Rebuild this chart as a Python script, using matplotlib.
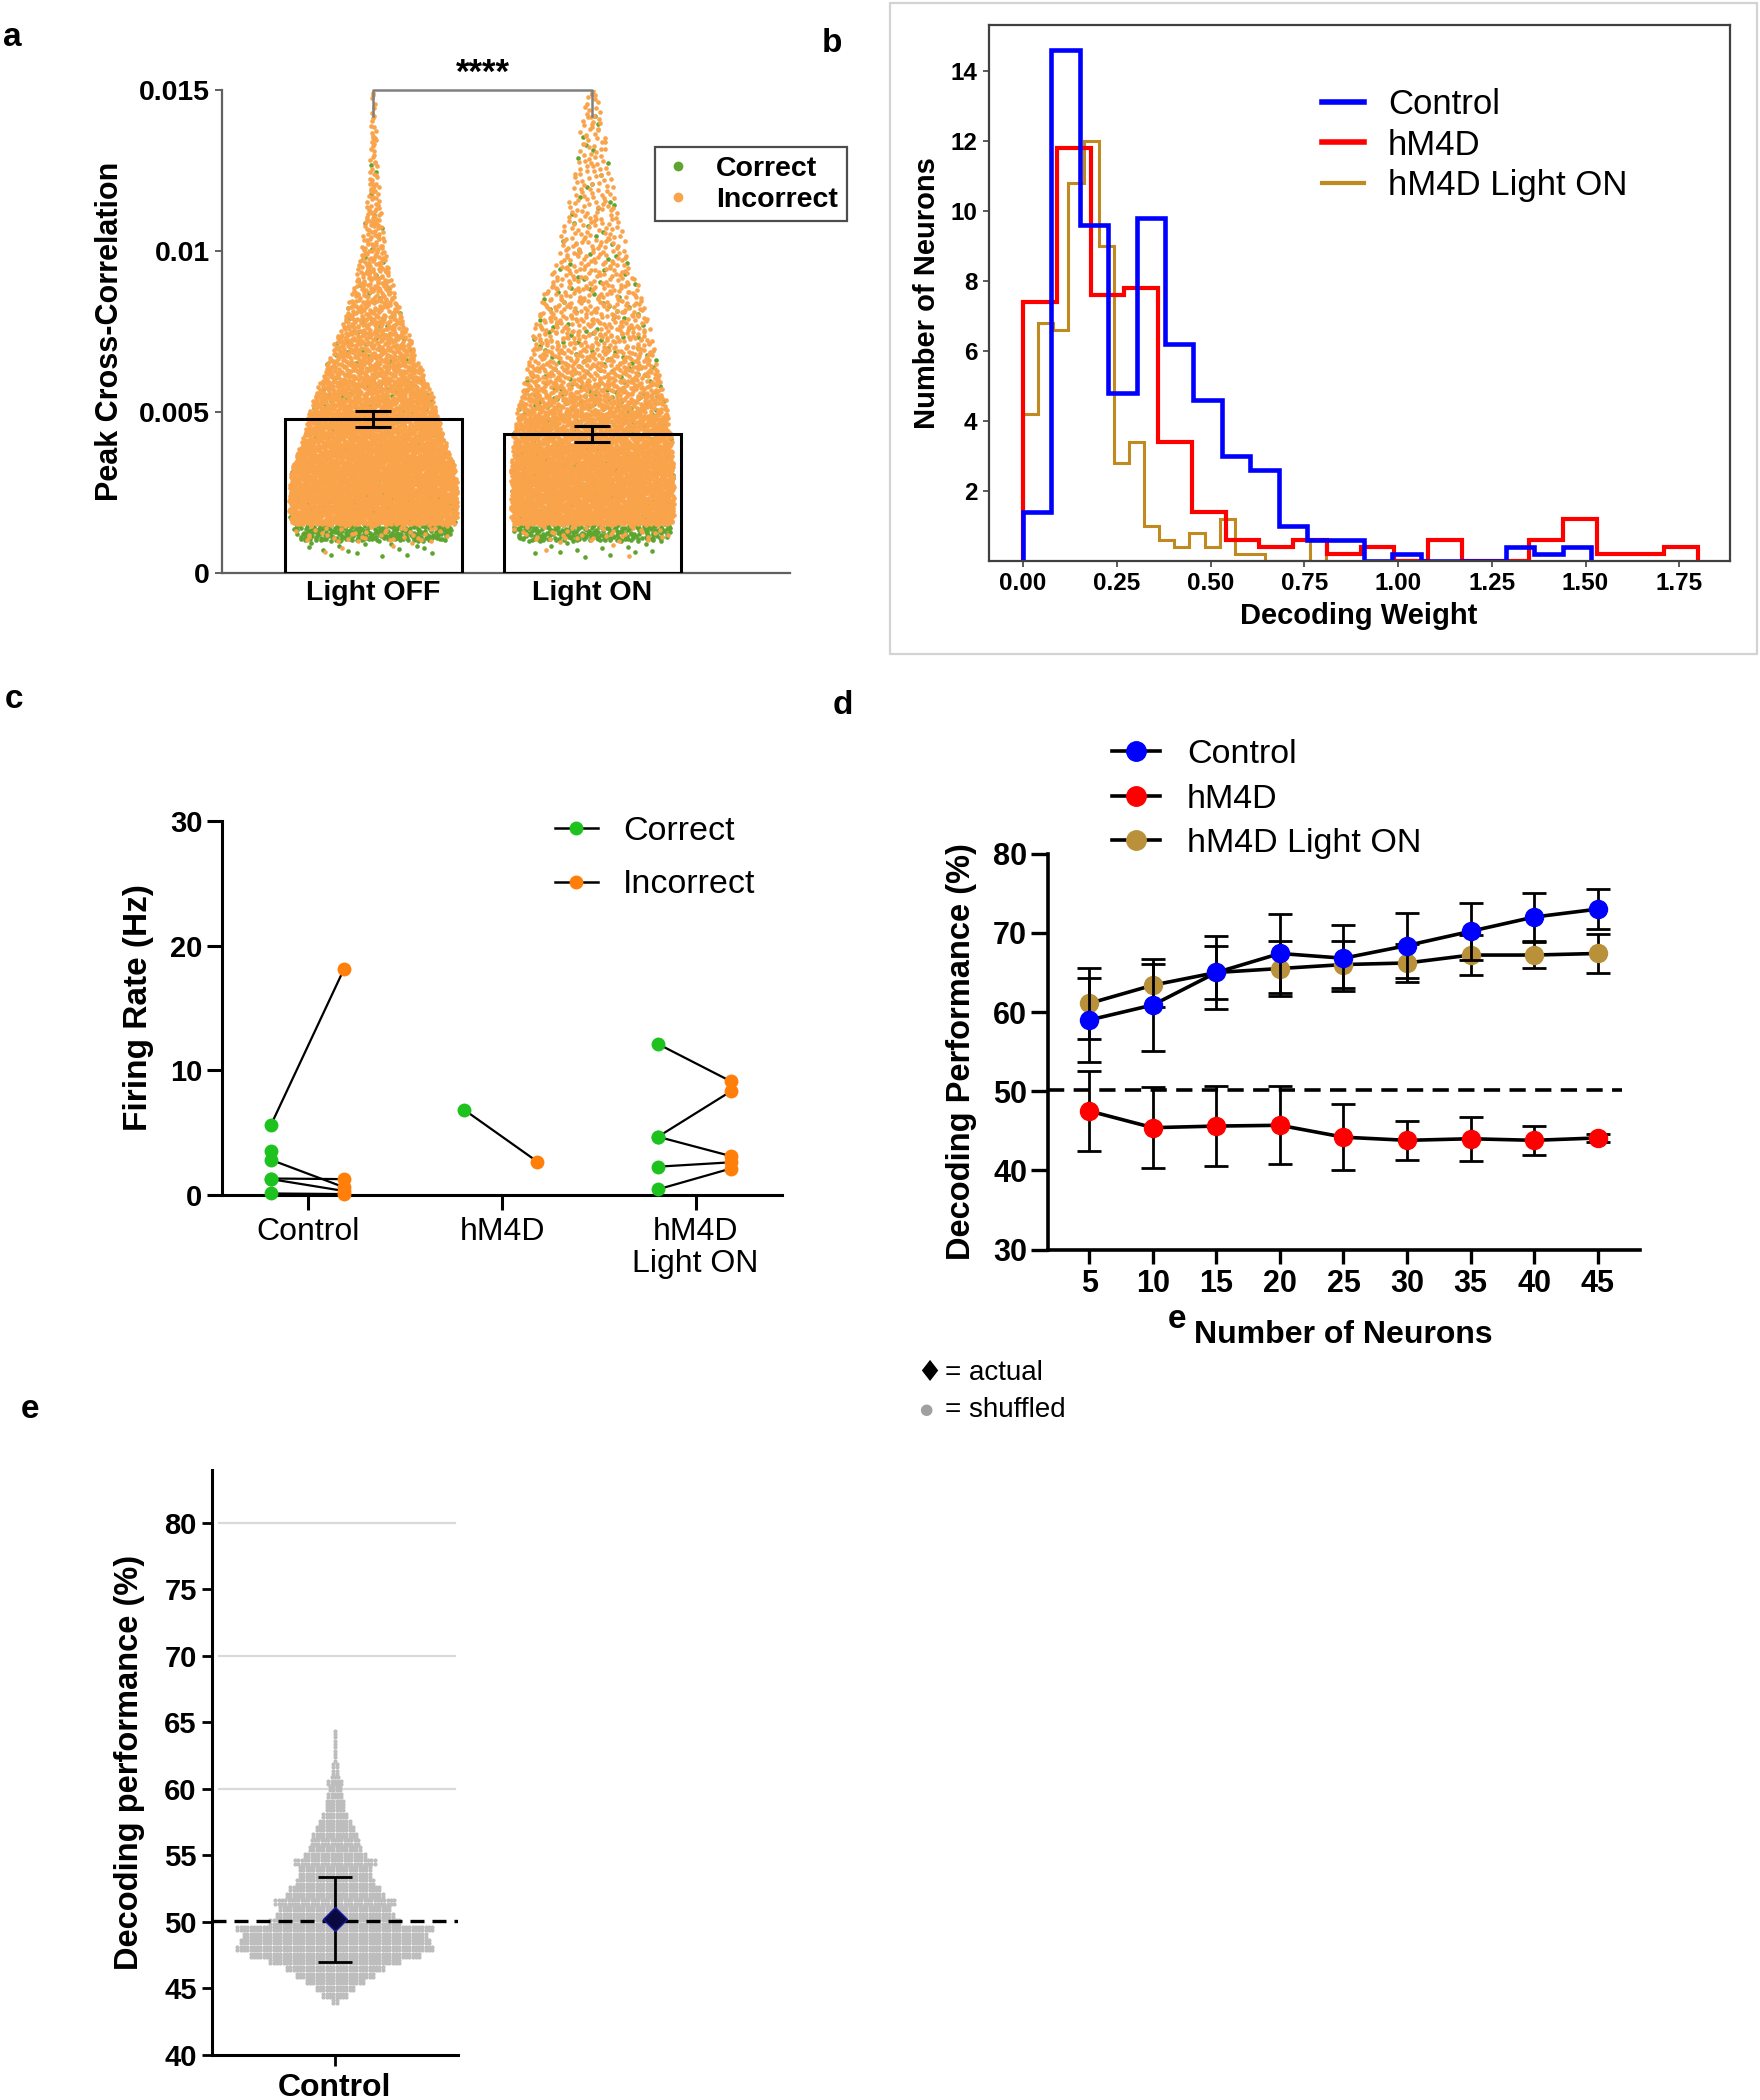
import numpy as np
import matplotlib
matplotlib.use('Agg')
import matplotlib.pyplot as plt
from matplotlib.lines import Line2D
from matplotlib.patches import Rectangle

plt.rcParams['font.family'] = ['Liberation Sans', 'DejaVu Sans']

# ---------------- DATA ----------------
# Panel a: peak cross-correlation (sina cloud, counts per value bin)
cc_groups = ['Light OFF', 'Light ON']
cc_edges = np.linspace(0.0005, 0.015, 30)          # 29 value bins
cc_mean = [0.00478, 0.00432]
cc_sem = [0.00024, 0.00024]
off_density = [0.80, 0.93, 1.0, 1.0, 1.0, 0.97, 0.90, 0.83, 0.79, 0.73, 0.67, 0.58, 0.51, 0.45, 0.37,
               0.31, 0.25, 0.20, 0.17, 0.13, 0.11, 0.09, 0.07, 0.053, 0.04, 0.033, 0.03, 0.023, 0.017]
off_correct = [15, 237, 35, 35, 35, 34, 30, 26, 22, 19, 16, 12, 10, 8, 7, 5, 4, 3, 2, 2,
               2, 1, 1, 1, 1, 0, 0, 0, 0]
off_incorrect = [5, 40, 473, 473, 473, 457, 397, 341, 298, 254, 210, 165, 138, 113, 88, 68, 52, 41, 32, 25,
                 20, 17, 13, 10, 7, 7, 6, 5, 4]
on_density = [0.79, 0.93, 0.97, 0.97, 0.97, 0.97, 0.95, 0.94, 0.91, 0.88, 0.84, 0.79, 0.75, 0.71, 0.68,
              0.63, 0.57, 0.49, 0.43, 0.39, 0.36, 0.31, 0.27, 0.23, 0.19, 0.16, 0.14, 0.11, 0.08]
on_correct = [14, 220, 40, 40, 40, 40, 40, 35, 30, 26, 20, 16, 13, 11, 10, 9, 7, 6, 5, 4,
              3, 3, 3, 2, 2, 2, 2, 1, 1]
on_incorrect = [4, 40, 451, 451, 451, 451, 396, 331, 264, 212, 165, 131, 107, 92, 82, 71, 60, 48, 39, 33,
                27, 24, 20, 17, 14, 13, 12, 11, 7]

# Panel b: decoding weight histograms (20 bins each)
dw_control = [1.4, 14.6, 9.6, 4.8, 9.8, 6.2, 4.6, 3.0, 2.6, 1.0, 0.6, 0.6, 0, 0.2, 0, 0, 0, 0.4, 0.2, 0.4]
dw_control_range = (0.0, 1.515)
dw_hm4d = [7.4, 11.8, 7.6, 7.8, 3.4, 1.4, 0.6, 0.4, 0.6, 0.2, 0.4, 0, 0.6, 0, 0, 0.6, 1.2, 0.2, 0.2, 0.4]
dw_hm4d_range = (0.0, 1.8)
dw_light = [4.2, 6.8, 6.6, 10.8, 12.0, 9.0, 2.8, 3.4, 1.0, 0.6, 0.4, 0.8, 0.4, 1.2, 0.2, 0.2, 0, 0, 0, 0.6]
dw_light_range = (0.0, 0.807)

# Panel c: firing rate, paired correct / incorrect
fr_groups = ['Control', 'hM4D', 'hM4D\nLight ON']
fr_correct = [[5.6, 3.5, 2.8, 1.3, 1.25, 0.1], [6.8], [12.1, 4.65, 4.65, 2.25, 0.43]]
fr_incorrect = [[18.1, np.nan, 0.6, 1.25, 0.3, 0.05], [2.65], [9.1, 8.3, 3.1, 2.6, 2.1]]

# Panel d: decoding performance vs number of neurons
n_neurons = [5, 10, 15, 20, 25, 30, 35, 40, 45]
perf_control = [59.0, 60.9, 65.0, 67.4, 66.8, 68.4, 70.2, 72.0, 73.0]
perf_control_err = [5.3, 5.8, 4.6, 5.0, 4.2, 4.1, 3.6, 3.0, 2.5]
perf_hm4d = [47.5, 45.4, 45.6, 45.7, 44.2, 43.8, 44.0, 43.8, 44.1]
perf_hm4d_err = [5.1, 5.1, 5.0, 4.9, 4.2, 2.5, 2.75, 1.85, 0.5]
perf_light = [61.1, 63.4, 65.0, 65.5, 66.0, 66.2, 67.2, 67.2, 67.4]
perf_light_err = [4.5, 2.7, 3.3, 3.5, 3.0, 2.4, 2.5, 1.6, 2.5]
chance_d = 50.1

# Panel e: shuffled decoding performance distribution (counts per 0.5% level)
shuf_levels = [44.0, 44.5, 45.0, 45.5, 46.0, 46.5, 47.0, 47.5, 48.0, 48.5, 49.0, 49.5, 50.0, 50.5,
               51.0, 51.5, 52.0, 52.5, 53.0, 53.5, 54.0, 54.5, 55.0, 55.5, 56.0, 56.5, 57.0, 57.5,
               58.0, 58.5, 59.0, 59.5, 60.0, 60.5, 61.0, 61.5, 62.0, 62.5, 63.0, 63.5, 64.0, 64.5]
shuf_counts = [4, 16, 24, 36, 48, 60, 80, 104, 120, 116, 112, 120, 80, 72,
               68, 74, 60, 56, 48, 44, 44, 50, 38, 32, 30, 28, 24, 20,
               16, 12, 12, 10, 8, 10, 5, 4, 3, 2, 2, 2, 2, 1]
actual_perf = 50.2
actual_err = 3.2
chance_e = 50.1

# ---------------- FIGURE ----------------
W, H = 1760, 2100
fig = plt.figure(figsize=(W / 100, H / 100), dpi=100)


def add_ax(x0, y0, x1, y1):
    return fig.add_axes([x0 / W, 1 - y1 / H, (x1 - x0) / W, (y1 - y0) / H])


def halton(i, b):
    f, r = 1.0, 0.0
    while i > 0:
        f /= b
        r += f * (i % b)
        i //= b
    return r


def sina(pos, edges, density, counts, maxhw, start):
    centers = (edges[:-1] + edges[1:]) / 2
    cx = np.r_[centers, edges[-1]]
    cd = np.r_[density, 0.0]
    xs, ys = [], []
    idx = start
    for i, n in enumerate(counts):
        lo, hi = edges[i], edges[i + 1]
        for _ in range(n):
            idx += 1
            u = halton(idx, 2)
            v = halton(idx, 3)
            y = lo + v * (hi - lo)
            d = np.interp(y, cx, cd)
            xs.append(pos + (2 * u - 1) * d * maxhw)
            ys.append(y)
    return np.array(xs), np.array(ys)


def weight_ticks(ax, axis, weight):
    labels = ax.get_xticklabels() if axis == 'x' else ax.get_yticklabels()
    for t in labels:
        t.set_fontweight(weight)


def ylabel_at(ax, text, size, xfrac):
    ax.set_ylabel(text, fontsize=size, fontweight='bold')
    ax.yaxis.set_label_coords(xfrac, 0.5)
    ax.yaxis.label.set_va('center')


# ---------- panel a ----------
GREEN_A = '#5DA52E'
ORANGE_A = '#F9A34B'
axa = add_ax(222, 90, 790, 573)
pos = [1, 2]
groups = [(off_density, off_correct, off_incorrect), (on_density, on_correct, on_incorrect)]
for gi, (dens, nc, ni) in enumerate(groups):
    xg, yg = sina(pos[gi], cc_edges, dens, nc, 0.384, 1 + gi * 40000)
    xo, yo = sina(pos[gi], cc_edges, dens, ni, 0.384, 20001 + gi * 40000)
    axa.scatter(xg, yg, s=11, c=GREEN_A, linewidths=0, zorder=1)
    axa.scatter(xo, yo, s=11, c=ORANGE_A, linewidths=0, zorder=2)
axa.bar(pos, cc_mean, width=0.81, fill=False, edgecolor='black', linewidth=2.2, zorder=3)
axa.errorbar(pos, cc_mean, yerr=cc_sem, fmt='none', ecolor='black', elinewidth=2.2,
             capsize=13, capthick=2.2, zorder=4)
axa.set_xlim(0.309, 2.902)
axa.set_ylim(0, 0.015)
axa.set_xticks(pos)
axa.set_xticklabels(cc_groups)
axa.set_yticks([0, 0.005, 0.01, 0.015])
axa.set_yticklabels(['0', '0.005', '0.01', '0.015'])
for s in ['top', 'right']:
    axa.spines[s].set_visible(False)
for s in ['left', 'bottom']:
    axa.spines[s].set_color('#606060')
    axa.spines[s].set_linewidth(1.6)
axa.tick_params(axis='y', length=5, width=1.4, color='#606060', labelsize=20.5, pad=4)
axa.tick_params(axis='x', length=0, labelsize=20.5, pad=5)
weight_ticks(axa, 'x', 'bold')
weight_ticks(axa, 'y', 'bold')
ylabel_at(axa, 'Peak Cross-Correlation', 22, -0.197)
axa.plot([1, 1, 2, 2], [0.0142, 0.015, 0.015, 0.0142], color='#808080', lw=1.8, clip_on=False, zorder=5)
axa.text(1.5, 0.01552, '****', ha='center', va='center', fontsize=25, fontweight='bold')
leg_a = axa.legend(handles=[Line2D([], [], marker='o', ls='none', color=GREEN_A, ms=6, label='Correct'),
                            Line2D([], [], marker='o', ls='none', color=ORANGE_A, ms=6, label='Incorrect')],
                   loc='upper left', bbox_to_anchor=(655 / W, 1 - 147 / H), bbox_transform=fig.transFigure,
                   borderaxespad=0, fancybox=False, frameon=True, handlelength=1.0, handletextpad=0.85,
                   borderpad=0.3, labelspacing=0.18, prop={'size': 20.5, 'weight': 'bold'})
leg_a.get_frame().set_edgecolor('#202020')
leg_a.get_frame().set_linewidth(1.6)

# ---------- panel b ----------
BLUE = '#0000FF'
RED = '#FF0000'
GOLD_B = '#C08A20'
axb = add_ax(988.5, 25.4, 1729.5, 561)
axb.stairs(dw_light, np.linspace(*dw_light_range, len(dw_light) + 1), color=GOLD_B, lw=2.2, baseline=0)
axb.stairs(dw_hm4d, np.linspace(*dw_hm4d_range, len(dw_hm4d) + 1), color=RED, lw=3.0, baseline=0)
axb.stairs(dw_control, np.linspace(*dw_control_range, len(dw_control) + 1), color=BLUE, lw=3.3, baseline=0)
axb.set_xlim(-0.092, 1.884)
axb.set_ylim(0, 15.3)
axb.set_yticks([2, 4, 6, 8, 10, 12, 14])
axb.set_xticks([0, 0.25, 0.5, 0.75, 1.0, 1.25, 1.5, 1.75])
axb.set_xticklabels(['0.00', '0.25', '0.50', '0.75', '1.00', '1.25', '1.50', '1.75'])
for s in axb.spines.values():
    s.set_color('#404040')
    s.set_linewidth(1.6)
axb.tick_params(length=4, width=1.2, color='#404040', labelsize=17.5, pad=4)
weight_ticks(axb, 'x', 'bold')
weight_ticks(axb, 'y', 'bold')
axb.set_xlabel('Decoding Weight', fontsize=21, fontweight='bold', labelpad=5)
axb.set_ylabel('Number of Neurons', fontsize=21, fontweight='bold', labelpad=7)
axb.legend(handles=[Line2D([], [], color=BLUE, lw=4, label='Control'),
                    Line2D([], [], color=RED, lw=4, label='hM4D'),
                    Line2D([], [], color=GOLD_B, lw=3, label='hM4D Light ON')],
           loc='upper left', bbox_to_anchor=(1322 / W, 1 - 88 / H), bbox_transform=fig.transFigure,
           borderaxespad=0, frameon=False, handlelength=1.2, handletextpad=0.7,
           borderpad=0, labelspacing=0.22, prop={'size': 25})
fig.patches.append(Rectangle((890 / W, 1 - 654 / H), (1757 - 890) / W, (654 - 3) / H,
                             transform=fig.transFigure, fill=False, edgecolor='#D3D3D3', lw=1.6))

# ---------- panel c ----------
GREEN_C = '#1EC21E'
ORANGE_C = '#FF7F0A'
axc = add_ax(222, 821, 782, 1194.7)
for gi in range(len(fr_groups)):
    xg = gi - 0.194
    xo = gi + 0.183
    for g, o in zip(fr_correct[gi], fr_incorrect[gi]):
        if not np.isnan(o):
            axc.plot([xg, xo], [g, o], color='black', lw=1.6, zorder=2, solid_capstyle='butt')
    axc.plot([xg] * len(fr_correct[gi]), fr_correct[gi], 'o', color=GREEN_C, ms=10, mew=0, zorder=3,
             clip_on=False)
    axc.plot([xo] * len(fr_incorrect[gi]), fr_incorrect[gi], 'o', color=ORANGE_C, ms=10, mew=0, zorder=3,
             clip_on=False)
axc.set_xlim(-0.447, 2.447)
axc.set_ylim(0, 30)
axc.set_yticks([0, 10, 20, 30])
axc.set_xticks(range(len(fr_groups)))
axc.set_xticklabels(fr_groups, linespacing=1.1)
for s in ['top', 'right']:
    axc.spines[s].set_visible(False)
for s in ['left', 'bottom']:
    axc.spines[s].set_linewidth(2.2)
axc.tick_params(axis='y', length=11, width=2.2, labelsize=21, pad=3)
axc.tick_params(axis='x', length=11, width=2.2, labelsize=23, pad=5)
weight_ticks(axc, 'y', 'bold')
ylabel_at(axc, 'Firing Rate (Hz)', 24, -0.149)
axc.legend(handles=[Line2D([], [], color='black', lw=1.8, marker='o', mfc=GREEN_C, mec=GREEN_C, ms=9,
                           label='Correct'),
                    Line2D([], [], color='black', lw=1.8, marker='o', mfc=ORANGE_C, mec=ORANGE_C, ms=9,
                           label='Incorrect')],
           loc='upper left', bbox_to_anchor=(555 / W, 1 - 816 / H), bbox_transform=fig.transFigure,
           borderaxespad=0, frameon=False, handlelength=1.25, handletextpad=0.75,
           borderpad=0, labelspacing=0.66, prop={'size': 24.5})

# ---------- panel d ----------
GOLD_D = '#B8913A'
axd = add_ax(1048, 853.7, 1640, 1249.6)
axd.plot([1.74, 46.9], [chance_d, chance_d], ls=(0, (4.5, 2.6)), color='black', lw=2.6, zorder=1)
series = [(perf_light, perf_light_err, GOLD_D, 2), (perf_control, perf_control_err, BLUE, 3),
          (perf_hm4d, perf_hm4d_err, RED, 4)]
for vals, errs, col, z in series:
    axd.errorbar(n_neurons, vals, yerr=errs, fmt='-o', color='black', mfc=col, mec=col, ms=13,
                 lw=2.6, elinewidth=2.0, capsize=8.5, capthick=2.0, zorder=z)
axd.set_xlim(1.74, 48.34)
axd.set_ylim(30, 80)
axd.set_xticks(n_neurons)
axd.set_yticks([30, 40, 50, 60, 70, 80])
for s in ['top', 'right']:
    axd.spines[s].set_visible(False)
for s in ['left', 'bottom']:
    axd.spines[s].set_linewidth(2.6)
axd.tick_params(axis='y', length=12, width=2.4, labelsize=22, pad=3)
axd.tick_params(axis='x', length=10, width=2.4, labelsize=22, pad=4)
weight_ticks(axd, 'x', 'bold')
weight_ticks(axd, 'y', 'bold')
ylabel_at(axd, 'Decoding Performance (%)', 23.5, -0.146)
axd.set_xlabel('Number of Neurons', fontsize=23, fontweight='bold')
axd.xaxis.set_label_coords(0.498, -0.216)
axd.xaxis.label.set_va('center')
axd.legend(handles=[Line2D([], [], color='black', lw=2.6, marker='o', mfc=BLUE, mec=BLUE, ms=14,
                           label='Control'),
                    Line2D([], [], color='black', lw=2.6, marker='o', mfc=RED, mec=RED, ms=14,
                           label='hM4D'),
                    Line2D([], [], color='black', lw=2.6, marker='o', mfc=GOLD_D, mec=GOLD_D, ms=14,
                           label='hM4D Light ON')],
           loc='upper left', bbox_to_anchor=(1112 / W, 1 - 739 / H), bbox_transform=fig.transFigure,
           borderaxespad=0, frameon=False, handlelength=1.4, handletextpad=0.8,
           borderpad=0, labelspacing=0.4, prop={'size': 24.5})

# ---------- panel e ----------
axe = add_ax(212, 1469.5, 457.7, 2055)
dx = 0.0269
xs, ys = [], []
for lev, n in zip(shuf_levels, shuf_counts):
    n1 = (n + 1) // 2
    n2 = n - n1
    for m, yy in ((n1, lev - 0.12), (n2, lev + 0.12)):
        for k in range(m):
            xs.append((k - (m - 1) / 2) * dx)
            ys.append(yy)
for gy in [60, 70, 80]:
    axe.axhline(gy, xmin=0.03, xmax=0.99, color='#D9D9D9', lw=1.6, zorder=0)
axe.scatter(xs, ys, s=9, c='#BDBDBD', linewidths=0, zorder=2)
axe.axhline(chance_e, color='black', lw=2.4, ls=(0, (4.2, 2.4)), zorder=3)
axe.errorbar([0], [actual_perf], yerr=[actual_err], fmt='D', color='black', mfc='#0A0A40', mec='#1A1AA0',
             ms=12, elinewidth=2.0, capsize=12.5, capthick=2.0, zorder=4)
axe.set_xlim(-1, 1)
axe.set_ylim(40, 84)
axe.set_yticks([40, 45, 50, 55, 60, 65, 70, 75, 80])
axe.set_xticks([0])
axe.set_xticklabels(['Control'])
for s in ['top', 'right']:
    axe.spines[s].set_visible(False)
for s in ['left', 'bottom']:
    axe.spines[s].set_linewidth(2.2)
axe.tick_params(axis='y', length=7, width=2.0, labelsize=21, pad=4)
axe.tick_params(axis='x', length=8, width=2.0, labelsize=23, pad=5)
weight_ticks(axe, 'x', 'bold')
weight_ticks(axe, 'y', 'bold')
ylabel_at(axe, 'Decoding performance (%)', 23.5, -0.334)

# ---------- figure texts ----------
for lab, (x, y) in {'a': (3, 37), 'b': (822, 44), 'c': (5, 700), 'd': (833, 706), 'e': (21, 1410)}.items():
    fig.text(x / W, 1 - y / H, lab, fontsize=24, fontweight='bold', ha='left', va='center')
fig.text(1177 / W, 1 - 1320 / H, 'e', fontsize=24, fontweight='bold', ha='center', va='center')
fig.text(916 / W, 1 - 1373 / H, '\u2666', fontsize=21, ha='left', va='center', color='black',
         family=['DejaVu Sans'])
fig.text(945 / W, 1 - 1373 / H, '= actual', fontsize=20, ha='left', va='center')
fig.text(919 / W, 1 - 1410 / H, '\u25CF', fontsize=11, ha='left', va='center', color='#A0A0A0',
         family=['DejaVu Sans'])
fig.text(945 / W, 1 - 1410 / H, '= shuffled', fontsize=20, ha='left', va='center')

fig.savefig('out.png', dpi=100)
